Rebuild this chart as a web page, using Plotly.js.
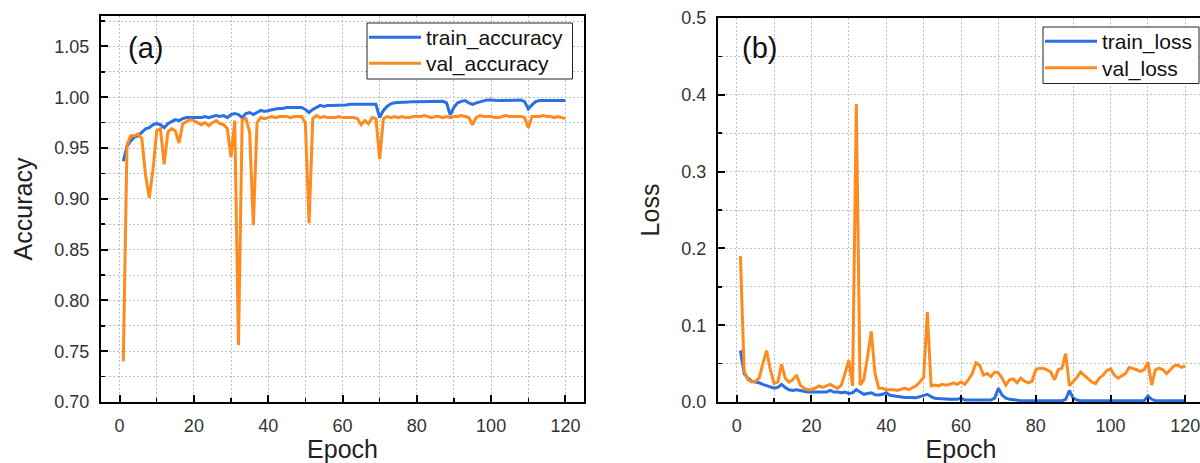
<!DOCTYPE html>
<html>
<head>
<meta charset="utf-8">
<script src="https://cdn.plot.ly/plotly-3.0.1.min.js"></script>
<style>
html, body { margin:0; padding:0; overflow:hidden; background:#fff; }
#chart { width:1210px; height:463px; }
</style>
</head>
<body>
<div id="chart"></div>
<script>
// ---- data ----
const epochs = [];
for (let i = 1; i <= 120; i++) epochs.push(i);

const trainAccuracy = [
 0.937,0.952,0.957,0.961,0.962,0.966,0.969,0.970,0.973,0.974,
 0.973,0.970,0.974,0.976,0.978,0.977,0.979,0.980,0.980,0.980,
 0.980,0.980,0.981,0.980,0.981,0.982,0.981,0.982,0.980,0.983,
 0.984,0.983,0.980,0.984,0.985,0.983,0.985,0.987,0.986,0.987,
 0.988,0.9885,0.989,0.989,0.990,0.990,0.9905,0.9905,0.990,0.988,
 0.985,0.988,0.990,0.992,0.991,0.992,0.992,0.992,0.9925,0.992,
 0.9925,0.993,0.993,0.9935,0.9935,0.9935,0.9935,0.9935,0.993,0.980,
 0.987,0.991,0.9935,0.9945,0.995,0.995,0.995,0.9957,0.9957,0.9957,
 0.9957,0.996,0.996,0.9957,0.996,0.996,0.996,0.9945,0.9826,0.990,
 0.9945,0.996,0.9967,0.9945,0.993,0.9945,0.9957,0.9967,0.9974,0.9974,
 0.9967,0.9967,0.9967,0.9967,0.9967,0.9974,0.9974,0.9974,0.9957,0.9885,
 0.9925,0.9957,0.9967,0.9967,0.9967,0.9967,0.9967,0.9967,0.9967,0.9967
];

const valAccuracy = [
 0.740,0.953,0.962,0.962,0.964,0.959,0.923,0.901,0.929,0.967,
 0.969,0.934,0.966,0.969,0.967,0.955,0.974,0.976,0.978,0.977,
 0.975,0.973,0.975,0.972,0.975,0.977,0.974,0.973,0.969,0.941,
 0.977,0.756,0.978,0.979,0.966,0.874,0.975,0.980,0.979,0.980,
 0.981,0.980,0.981,0.981,0.981,0.980,0.981,0.981,0.981,0.975,
 0.876,0.979,0.982,0.980,0.981,0.980,0.980,0.980,0.981,0.980,
 0.980,0.980,0.980,0.979,0.973,0.977,0.974,0.980,0.979,0.939,
 0.979,0.981,0.980,0.981,0.980,0.981,0.980,0.980,0.981,0.981,
 0.981,0.982,0.981,0.980,0.981,0.981,0.980,0.981,0.980,0.981,
 0.981,0.982,0.981,0.980,0.973,0.980,0.982,0.981,0.981,0.981,
 0.980,0.980,0.981,0.982,0.981,0.981,0.981,0.981,0.980,0.970,
 0.981,0.981,0.981,0.982,0.981,0.981,0.980,0.981,0.980,0.979
];

const trainLoss = [
 0.067,0.037,0.031,0.027,0.026,0.025,0.023,0.021,0.019,0.018,
 0.019,0.023,0.019,0.016,0.015,0.016,0.015,0.014,0.013,0.013,
 0.013,0.013,0.0126,0.013,0.015,0.013,0.013,0.012,0.013,0.011,
 0.012,0.016,0.013,0.010,0.011,0.012,0.0095,0.009,0.010,0.012,
 0.0087,0.008,0.007,0.007,0.006,0.006,0.0056,0.0056,0.007,0.0087,
 0.010,0.007,0.005,0.0045,0.004,0.0035,0.0035,0.0035,0.0035,0.005,
 0.0026,0.0026,0.0026,0.0026,0.0026,0.0026,0.0026,0.0026,0.005,0.018,
 0.009,0.005,0.0035,0.0026,0.0017,0.0017,0.0017,0.0017,0.0017,0.0017,
 0.0017,0.0017,0.0017,0.0017,0.0017,0.0017,0.0017,0.0035,0.015,0.005,
 0.0026,0.0017,0.0017,0.0017,0.0017,0.0017,0.0017,0.0017,0.0017,0.0017,
 0.0017,0.0017,0.0017,0.0017,0.0017,0.0017,0.0017,0.0017,0.0017,0.008,
 0.0035,0.0017,0.0017,0.0017,0.0017,0.0017,0.0017,0.0017,0.0017,0.0017
];

const valLoss = [
 0.190,0.040,0.029,0.026,0.027,0.031,0.050,0.067,0.042,0.024,
 0.026,0.049,0.031,0.026,0.029,0.035,0.022,0.018,0.016,0.016,
 0.018,0.021,0.019,0.021,0.023,0.020,0.018,0.022,0.037,0.054,
 0.021,0.388,0.022,0.029,0.059,0.092,0.037,0.018,0.018,0.016,
 0.016,0.016,0.015,0.016,0.018,0.016,0.019,0.021,0.026,0.032,
 0.117,0.021,0.022,0.021,0.023,0.022,0.023,0.025,0.023,0.026,
 0.023,0.029,0.037,0.051,0.048,0.035,0.037,0.033,0.039,0.038,
 0.031,0.022,0.029,0.030,0.025,0.031,0.027,0.025,0.027,0.042,
 0.044,0.044,0.042,0.039,0.029,0.042,0.044,0.063,0.021,0.026,
 0.032,0.039,0.035,0.031,0.026,0.024,0.031,0.035,0.041,0.043,
 0.035,0.031,0.034,0.037,0.045,0.044,0.042,0.040,0.042,0.052,
 0.022,0.042,0.044,0.042,0.037,0.042,0.047,0.048,0.045,0.047
];

const panelLabels = ['(a)', '(b)'];
const accTicks = [0.70,0.75,0.80,0.85,0.90,0.95,1.00,1.05];

// ---- styling ----
const FONT = 'Liberation Sans, Arial, Helvetica, sans-serif';
const BLUE = '#2a6fe3';
const ORANGE = '#ff8a1e';
const GRID = '#bfbfbf';
const W = 1210, H = 463;

function xAxis(domain, anchor) {
  return {
    domain: domain, anchor: anchor, range: [-5, 125],
    tick0: 0, dtick: 20, ticks: 'inside', ticklen: 7, tickwidth: 2, tickcolor: '#000',
    showline: true, linewidth: 2, linecolor: '#000', mirror: true,
    showgrid: true, gridcolor: GRID, gridwidth: 1, griddash: '2px,2px',
    zeroline: false,
    minor: { dtick: 10, tick0: 0, ticks: 'inside', ticklen: 4, tickwidth: 1.5, tickcolor: '#000',
             showgrid: true, gridcolor: GRID, gridwidth: 1, griddash: '2px,2px' },
    tickfont: { family: FONT, size: 18, color: '#333' },
    ticklabelstandoff: 6,
    title: { text: 'Epoch', font: { family: FONT, size: 25, color: '#222' }, standoff: 7 }
  };
}
function yAxis(domain, anchor, range, dtick, mdtick, fmt, title) {
  return {
    domain: domain, anchor: anchor, range: range,
    tick0: range[0], dtick: dtick, tickformat: fmt,
    ticks: 'inside', ticklen: 7, tickwidth: 2, tickcolor: '#000',
    showline: true, linewidth: 2, linecolor: '#000', mirror: true,
    showgrid: true, gridcolor: GRID, gridwidth: 1, griddash: '2px,2px',
    zeroline: false,
    minor: { dtick: mdtick, tick0: range[0], ticks: 'inside', ticklen: 4, tickwidth: 1.5, tickcolor: '#000',
             showgrid: true, gridcolor: GRID, gridwidth: 1, griddash: '2px,2px' },
    tickfont: { family: FONT, size: 18, color: '#333' },
    ticklabelstandoff: 6,
    title: { text: title, font: { family: FONT, size: 25, color: '#222' }, standoff: 15 }
  };
}

const traces = [
  { x: epochs, y: trainAccuracy, name: 'train_accuracy', type: 'scatter', mode: 'lines',
    line: { color: BLUE, width: 3 }, xaxis: 'x', yaxis: 'y', legend: 'legend' },
  { x: epochs, y: valAccuracy, name: 'val_accuracy', type: 'scatter', mode: 'lines',
    line: { color: ORANGE, width: 3 }, xaxis: 'x', yaxis: 'y', legend: 'legend3' },
  { x: epochs, y: trainLoss, name: 'train_loss', type: 'scatter', mode: 'lines',
    line: { color: BLUE, width: 3 }, xaxis: 'x2', yaxis: 'y2', legend: 'legend2' },
  { x: epochs, y: valLoss, name: 'val_loss', type: 'scatter', mode: 'lines',
    line: { color: ORANGE, width: 3 }, xaxis: 'x2', yaxis: 'y2', legend: 'legend4' }
];

const yBottom = (H - 402) / H;
function leg(xpx, ypx) {
  return {
    x: xpx / W, y: 1 - ypx / H, xanchor: 'left', yanchor: 'middle',
    bgcolor: 'rgba(0,0,0,0)', borderwidth: 0,
    font: { family: FONT, size: 21, color: '#111' }, itemwidth: 52,
    itemclick: false, itemdoubleclick: false
  };
}
function box(x0, y0, x1, y1) {
  return { type: 'rect', xref: 'paper', yref: 'paper', layer: 'above',
           x0: x0 / W, x1: x1 / W, y0: 1 - y1 / H, y1: 1 - y0 / H,
           line: { color: '#222', width: 1 }, fillcolor: '#fff' };
}

const layout = {
  width: W, height: H,
  margin: { l: 0, r: 0, t: 0, b: 0 },
  paper_bgcolor: '#fff', plot_bgcolor: '#fff',
  showlegend: true,
  xaxis: xAxis([101 / W, 584 / W], 'y'),
  yaxis: Object.assign(yAxis([yBottom, (H - 16) / H], 'x', [0.70, 1.08], 0.05, 0.025, '.2f', 'Accuracy'),
                       { tickvals: accTicks }),
  xaxis2: xAxis([718 / W, 1204 / W], 'y2'),
  yaxis2: yAxis([yBottom, (H - 18) / H], 'x2', [0, 0.5], 0.1, 0.05, '.1f', 'Loss'),
  legend:  leg(364, 37.5),
  legend3: leg(364, 63.5),
  legend2: leg(1040, 41.5),
  legend4: leg(1040, 68),
  shapes: [ box(367, 23, 572.5, 79), box(1043, 27, 1199, 83.5) ],
  annotations: [
    { text: panelLabels[0], xref: 'paper', yref: 'paper', x: 126 / W, y: 1 - 48 / H,
      xanchor: 'left', yanchor: 'middle', showarrow: false,
      font: { family: FONT, size: 29, color: '#111' } },
    { text: panelLabels[1], xref: 'paper', yref: 'paper', x: 740 / W, y: 1 - 48 / H,
      xanchor: 'left', yanchor: 'middle', showarrow: false,
      font: { family: FONT, size: 29, color: '#111' } }
  ]
};

Plotly.newPlot('chart', traces, layout, { staticPlot: true, displayModeBar: false });
</script>
</body>
</html>
